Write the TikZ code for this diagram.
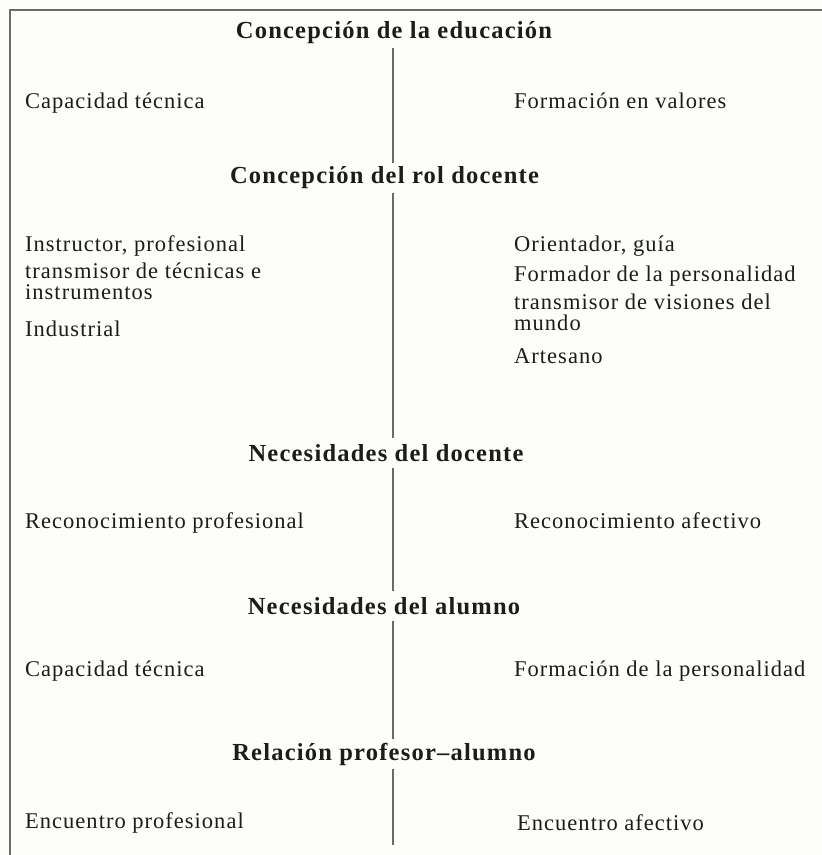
\documentclass[tikz,border=0pt]{standalone}
\usepackage{fontspec}
\setmainfont{Liberation Serif}
\definecolor{ink}{HTML}{1C1C1C}
\definecolor{rule}{HTML}{6A6A6A}
\definecolor{paper}{HTML}{FDFDFA}
\begin{document}
\begin{tikzpicture}[x=1pt,y=-1pt,
  head/.style={font=\fontsize{24.5}{26}\selectfont\bfseries\addfontfeatures{LetterSpace=5}, text=ink, inner sep=0pt, minimum height=30pt, anchor=center},
  item/.style={font=\fontsize{22.5}{24}\selectfont\addfontfeatures{LetterSpace=4.5}, text=ink, inner sep=0pt, anchor=mid west},
  vline/.style={draw=rule, line width=2pt},
  frame/.style={draw=rule, line width=2pt}]
\fill[paper] (0,0) rectangle (822,855);
\useasboundingbox (0,0) rectangle (822,855);
% frame (open at right and bottom, cropped)
\coordinate (fr1) at (822,10);
\coordinate (fr0) at (10,10);
\coordinate (fr2) at (10,855);
\draw[frame] (fr1) -- (fr0) -- (fr2);
\coordinate (vx) at (393,0);
\coordinate (vend) at (393,845);
% headings
\node[head] (h1) at (394,33) {Concepción de la educación};
\node[head] (h2) at (384.5,178) {Concepción del rol docente};
\node[head] (h3) at (386,453) {Necesidades del docente};
\node[head] (h4) at (384,606) {Necesidades del alumno};
\node[head] (h5) at (384,754) {Relación profesor–alumno};
% vertical rules
\draw[vline] (h1.south -| vx) -- (h2.north -| vx);
\draw[vline] (h2.south -| vx) -- (h3.north -| vx);
\draw[vline] (h3.south -| vx) -- (h4.north -| vx);
\draw[vline] (h4.south -| vx) -- (h5.north -| vx);
\draw[vline] (h5.south -| vx) -- (vend);
% section 1
\node[item] (l1) at (25,106) {Capacidad técnica};
\node[item] (r1) at (514,106) {Formación en valores};
% section 2
\node[item] (l2a) at (25,249) {Instructor, profesional};
\node[item] (l2b) at (25,276) {transmisor de técnicas e};
\node[item] (l2c) at (25,297) {instrumentos};
\node[item] (l2d) at (25,334) {Industrial};
\node[item] (r2a) at (514,249) {Orientador, guía};
\node[item] (r2b) at (514,279) {Formador de la personalidad};
\node[item] (r2c) at (514,307) {transmisor de visiones del};
\node[item] (r2d) at (514,328) {mundo};
\node[item] (r2e) at (514,361) {Artesano};
% section 3
\node[item] (l3) at (25,526) {Reconocimiento profesional};
\node[item] (r3) at (514,526) {Reconocimiento afectivo};
% section 4
\node[item] (l4) at (25,674) {Capacidad técnica};
\node[item] (r4) at (514,674) {Formación de la personalidad};
% section 5
\node[item] (l5) at (25,826) {Encuentro profesional};
\node[item] (r5) at (517,828) {Encuentro afectivo};
\end{tikzpicture}
\end{document}
